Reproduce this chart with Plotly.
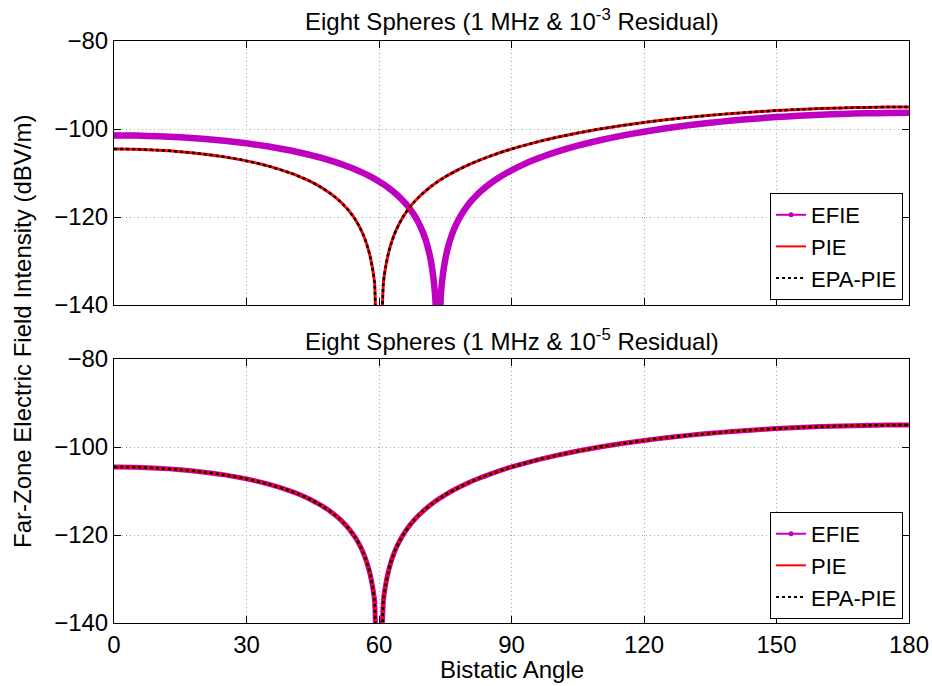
import plotly.graph_objects as go

# ---------------- data ----------------
angle_pie = [0, 5, 10, 15, 20, 25, 30, 35, 40, 42, 44, 45, 46, 47, 48, 49, 50, 51, 52, 53, 54,
             54.5, 55, 55.5, 56, 56.5, 57, 57.5, 58, 58.5, 59, 59.85, 61, 61.5, 62, 62.5, 63,
             63.5, 64, 64.5, 65, 66, 67, 68, 69, 70, 72, 73, 74, 75, 77, 80, 82.5, 85, 90,
             95, 100, 105, 110, 115, 120, 125, 130, 135, 140, 145, 150, 155, 160, 165, 170,
             175, 180]
pie_top = [-104.54, -104.61, -104.81, -105.15, -105.66, -106.34, -107.25, -108.44, -110.02,
           -110.80, -111.70, -112.20, -112.74, -113.32, -113.96, -114.65, -115.43, -116.29,
           -117.26, -118.36, -119.65, -120.38, -121.18, -122.08, -123.07, -124.21, -125.53,
           -127.09, -129.00, -131.48, -134.97, -165.0, -134.89, -131.35, -128.83, -126.87,
           -125.26, -123.90, -122.72, -121.68, -120.75, -119.13, -117.75, -116.55, -115.50,
           -114.55, -112.90, -112.17, -111.50, -110.87, -109.73, -108.25, -107.17, -106.21,
           -104.54, -103.15, -101.95, -100.92, -100.01, -99.22, -98.52, -97.90, -97.36,
           -96.89, -96.47, -96.11, -95.81, -95.56, -95.35, -95.20, -95.09, -95.02, -95.00]
epa_top = pie_top

angle_efie = [0, 5, 10, 15, 20, 25, 30, 35, 40, 42, 45, 47, 50, 52, 54, 55, 56, 58, 60, 61,
              62, 63, 64, 65, 66, 67, 67.5, 68, 68.5, 69, 69.5, 70, 70.5, 71, 71.5, 72, 72.5,
              73, 73.35, 74, 74.5, 75, 75.5, 76, 76.5, 77, 78, 79, 80, 81, 82, 83, 85, 87,
              90, 93, 95, 97, 100, 105, 110, 115, 120, 125, 130, 135, 140, 145, 150, 155,
              160, 165, 170, 175, 180]
efie_top = [-101.45, -101.50, -101.64, -101.88, -102.22, -102.68, -103.26, -103.99, -104.90,
            -105.33, -106.04, -106.58, -107.49, -108.17, -108.94, -109.36, -109.81, -110.79,
            -111.93, -112.57, -113.27, -114.04, -114.89, -115.84, -116.92, -118.16, -118.86,
            -119.62, -120.46, -121.39, -122.44, -123.63, -125.02, -126.68, -128.75, -131.47,
            -135.47, -143.15, -165.0, -137.80, -132.83, -129.68, -127.37, -125.54, -124.03,
            -122.74, -120.61, -118.90, -117.47, -116.24, -115.15, -114.19, -112.53, -111.13,
            -109.38, -107.92, -107.07, -106.30, -105.26, -103.79, -102.55, -101.51, -100.61,
            -99.83, -99.16, -98.58, -98.08, -97.65, -97.29, -96.99, -96.75, -96.57, -96.44,
            -96.36, -96.33]

# bottom panel: all three solutions coincide
efie_bot = pie_top
pie_bot = pie_top
epa_bot = pie_top

x_ticks = [0, 30, 60, 90, 120, 150, 180]
y_ticks = [-80, -100, -120, -140]
series_names = ["EFIE", "PIE", "EPA-PIE"]
titles = ["Eight Spheres (1 MHz &amp; 10<sup>-3</sup> Residual)",
          "Eight Spheres (1 MHz &amp; 10<sup>-5</sup> Residual)"]

# ---------------- styles ----------------
MAG = "#c000c0"
FONT = "Liberation Sans, Arial, Helvetica, sans-serif"
FS = 24
SM = 0.5

fig = go.Figure()

def add_panel(xa, ya, efie_x, efie_y, pie_x, pie_y, epa_y, legend, efie_w):
    fig.add_trace(go.Scatter(x=efie_x, y=efie_y, mode="lines",
                             line=dict(color=MAG, width=efie_w, shape="spline", smoothing=SM),
                             showlegend=False, xaxis=xa, yaxis=ya, hoverinfo="skip"))
    fig.add_trace(go.Scatter(x=pie_x, y=pie_y, mode="lines",
                             line=dict(color="red", width=3, shape="spline", smoothing=SM),
                             showlegend=False, xaxis=xa, yaxis=ya, hoverinfo="skip"))
    fig.add_trace(go.Scatter(x=pie_x, y=epa_y, mode="lines",
                             line=dict(color="black", width=2.5, dash="dot",
                                       shape="spline", smoothing=SM),
                             showlegend=False, xaxis=xa, yaxis=ya, hoverinfo="skip"))
    # legend entries
    fig.add_trace(go.Scatter(x=[None], y=[None], mode="lines+markers", name=series_names[0],
                             line=dict(color=MAG, width=2), marker=dict(color=MAG, size=5),
                             legend=legend, xaxis=xa, yaxis=ya))
    fig.add_trace(go.Scatter(x=[None], y=[None], mode="lines", name=series_names[1],
                             line=dict(color="red", width=2), legend=legend, xaxis=xa, yaxis=ya))
    fig.add_trace(go.Scatter(x=[None], y=[None], mode="lines", name=series_names[2],
                             line=dict(color="black", width=2, dash="dot"),
                             legend=legend, xaxis=xa, yaxis=ya))

add_panel("x", "y", angle_efie, efie_top, angle_pie, pie_top, epa_top, "legend", 6.5)
add_panel("x2", "y2", angle_pie, efie_bot, angle_pie, pie_bot, epa_bot, "legend2", 5)

top_dom = [0.5464, 1.0]
bot_dom = [0.0, 0.4536]

axis_common = dict(showline=True, linecolor="black", linewidth=1, mirror="ticks",
                   ticks="inside", ticklen=7, tickcolor="black", tickwidth=1,
                   showgrid=True, gridcolor="#a8a8a8", griddash="1px,3px", gridwidth=1,
                   zeroline=False, automargin=False,
                   tickfont=dict(family=FONT, size=FS, color="black"))

fig.update_layout(
    width=932, height=686,
    margin=dict(l=114, r=23, t=41, b=63, autoexpand=False),
    paper_bgcolor="white", plot_bgcolor="white",
    font=dict(family=FONT, size=FS, color="black"),
    xaxis=dict(domain=[0, 1], anchor="y", range=[0, 180], tickvals=x_ticks,
               showticklabels=False, **axis_common),
    yaxis=dict(domain=top_dom, anchor="x", range=[-140, -80], tickvals=y_ticks, **axis_common),
    xaxis2=dict(domain=[0, 1], anchor="y2", range=[0, 180], tickvals=x_ticks, **axis_common),
    yaxis2=dict(domain=bot_dom, anchor="x2", range=[-140, -80], tickvals=y_ticks, **axis_common),
    legend=dict(x=0.9925, y=0.555, xanchor="right", yanchor="bottom",
                bgcolor="white", bordercolor="black", borderwidth=1,
                font=dict(family=FONT, size=22), tracegroupgap=0),
    legend2=dict(x=0.9925, y=0.007, xanchor="right", yanchor="bottom",
                 bgcolor="white", bordercolor="black", borderwidth=1,
                 font=dict(family=FONT, size=22), tracegroupgap=0),
    showlegend=True,
)

fig.add_annotation(text=titles[0], x=0.5, y=1.036, xref="paper", yref="paper",
                   xanchor="center", yanchor="middle", showarrow=False,
                   font=dict(family=FONT, size=FS))
fig.add_annotation(text=titles[1], x=0.5, y=0.486, xref="paper", yref="paper",
                   xanchor="center", yanchor="middle", showarrow=False,
                   font=dict(family=FONT, size=FS))
fig.add_annotation(text="Bistatic Angle", x=0.5, y=-0.08, xref="paper", yref="paper",
                   xanchor="center", yanchor="middle", showarrow=False,
                   font=dict(family=FONT, size=FS))
fig.add_annotation(text="Far-Zone Electric Field Intensity (dBV/m)", x=-0.1157, y=0.5,
                   xref="paper", yref="paper", xanchor="center", yanchor="middle",
                   textangle=-90, showarrow=False, font=dict(family=FONT, size=FS))

fig.write_html("out.html")
